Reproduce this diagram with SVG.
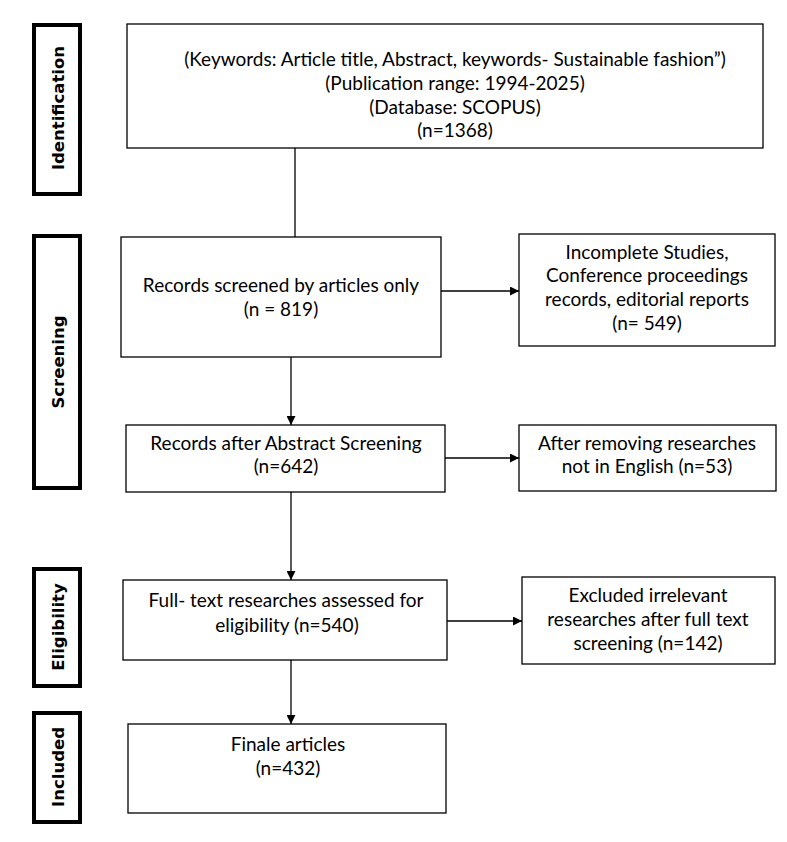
<svg xmlns="http://www.w3.org/2000/svg" width="787" height="842" viewBox="0 0 787 842">
<style>
.box{fill:#fff;stroke:#000;stroke-width:1.3}
.phase{fill:#fff;stroke:#000;stroke-width:4}
.t{font-family:Lato,"Open Sans",sans-serif;font-size:19px;fill:#000;text-anchor:middle}
.p{font-family:"DejaVu Sans",Verdana,sans-serif;font-weight:bold;font-size:16.5px;fill:#000;text-anchor:middle}
.c{stroke:#000;stroke-width:1.3;fill:none}
</style>
<defs>
<marker id="ah" viewBox="0 0 10 10" refX="10" refY="5" markerWidth="9" markerHeight="9" markerUnits="userSpaceOnUse" orient="auto">
<path d="M0,0 L10,5 L0,10 z" fill="#000"/>
</marker>
</defs>
<rect width="787" height="842" fill="#fff"/>
<g id="phases">
<g id="ph-identification"><rect class="phase" x="34" y="25" width="46" height="169"/><text class="p" transform="translate(64,108) rotate(-90)">Identification</text></g>
<g id="ph-screening"><rect class="phase" x="34" y="236" width="46" height="252"/><text class="p" transform="translate(64,362) rotate(-90)">Screening</text></g>
<g id="ph-eligibility"><rect class="phase" x="34" y="569" width="46" height="117"/><text class="p" transform="translate(64,627) rotate(-90)">Eligibility</text></g>
<g id="ph-included"><rect class="phase" x="34" y="713" width="46" height="109"/><text class="p" transform="translate(64,767) rotate(-90)">Included</text></g>
</g>
<g id="connectors">
<line class="c" x1="295" y1="148" x2="295" y2="237"/>
<line class="c" x1="441" y1="291" x2="519" y2="291" marker-end="url(#ah)"/>
<line class="c" x1="291" y1="357" x2="291" y2="425" marker-end="url(#ah)"/>
<line class="c" x1="445" y1="458" x2="519" y2="458" marker-end="url(#ah)"/>
<line class="c" x1="291" y1="492" x2="291" y2="580" marker-end="url(#ah)"/>
<line class="c" x1="447" y1="621" x2="522" y2="621" marker-end="url(#ah)"/>
<line class="c" x1="291" y1="660" x2="291" y2="724" marker-end="url(#ah)"/>
</g>
<g id="n-identification">
<rect class="box" x="127" y="24" width="636" height="124"/>
<text class="t" x="455" y="66">(Keywords: Article title, Abstract, keywords- Sustainable fashion”)</text>
<text class="t" x="455" y="90">(Publication range: 1994-2025)</text>
<text class="t" x="455" y="114">(Database: SCOPUS)</text>
<text class="t" x="455" y="137">(n=1368)</text>
</g>
<g id="n-screened">
<rect class="box" x="121" y="237" width="320" height="120"/>
<text class="t" x="281" y="292">Records screened by articles only</text>
<text class="t" x="281" y="316">(n = 819)</text>
</g>
<g id="n-excluded1">
<rect class="box" x="519" y="234" width="256" height="112"/>
<text class="t" x="647" y="259">Incomplete Studies,</text>
<text class="t" x="647" y="282">Conference proceedings</text>
<text class="t" x="647" y="306">records, editorial reports</text>
<text class="t" x="647" y="330">(n= 549)</text>
</g>
<g id="n-abstract">
<rect class="box" x="126" y="425" width="319" height="67"/>
<text class="t" x="286" y="450">Records after Abstract Screening</text>
<text class="t" x="286" y="473">(n=642)</text>
</g>
<g id="n-english">
<rect class="box" x="519" y="425" width="257" height="66"/>
<text class="t" x="647" y="450">After removing researches</text>
<text class="t" x="647" y="473">not in English (n=53)</text>
</g>
<g id="n-fulltext">
<rect class="box" x="123" y="580" width="324" height="80"/>
<text class="t" x="286" y="607">Full- text researches assessed for</text>
<text class="t" x="287" y="632">eligibility (n=540)</text>
</g>
<g id="n-irrelevant">
<rect class="box" x="522" y="577" width="253" height="87"/>
<text class="t" x="648" y="602">Excluded irrelevant</text>
<text class="t" x="648" y="626">researches after full text</text>
<text class="t" x="648" y="650">screening (n=142)</text>
</g>
<g id="n-final">
<rect class="box" x="128" y="724" width="318" height="89"/>
<text class="t" x="288" y="751">Finale articles</text>
<text class="t" x="288" y="775">(n=432)</text>
</g>
</svg>
